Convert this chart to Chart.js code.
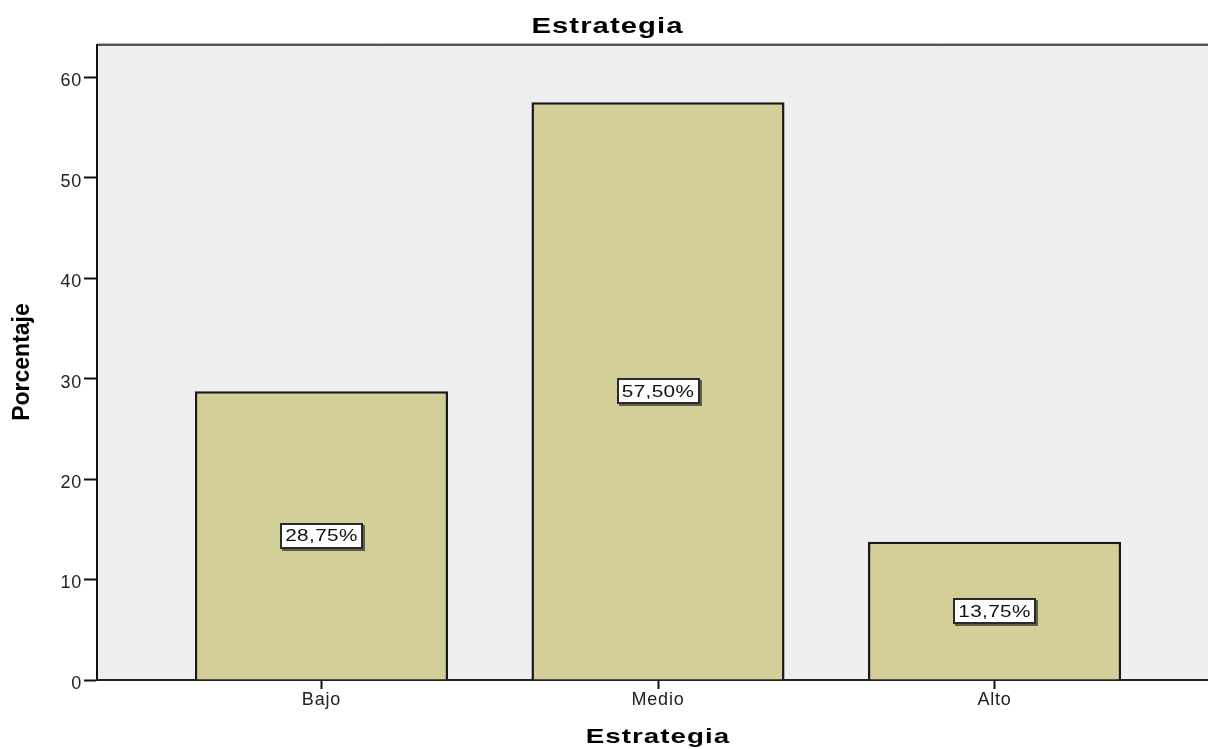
<!DOCTYPE html>
<html>
<head>
<meta charset="utf-8">
<title>Estrategia</title>
<script src="https://cdn.jsdelivr.net/npm/chart.js@4.4.1/dist/chart.umd.min.js"></script>
<style>
  html, body { margin: 0; padding: 0; background: #ffffff; overflow: hidden; }
  canvas { display: block; }
</style>
</head>
<body>
<canvas id="chart" width="1219" height="749"></canvas>
<script>
// Category names and their percentages
const categories = ['Bajo', 'Medio', 'Alto'];
const percentages = [28.75, 57.50, 13.75];
const yTickValues = [0, 10, 20, 30, 40, 50, 60];
const chartTitle = 'Estrategia';
const xAxisTitle = 'Estrategia';
const yAxisTitle = 'Porcentaje';

const fmtPercent = v => v.toFixed(2).replace('.', ',') + '%';

// Draws text with a horizontal stretch and letter spacing
function drawWideText(ctx, text, x, y, font, sx, spacing) {
  ctx.save();
  ctx.font = font;
  ctx.letterSpacing = spacing + 'px';
  ctx.textAlign = 'center';
  ctx.textBaseline = 'alphabetic';
  ctx.fillStyle = '#000';
  ctx.translate(x, y);
  ctx.scale(sx, 1);
  ctx.fillText(text, 0, 0);
  ctx.restore();
}

const decor = {
  id: 'decor',
  beforeDraw(chart) {
    const { ctx, chartArea: a } = chart;
    ctx.save();
    ctx.fillStyle = '#efefef';
    ctx.fillRect(a.left, a.top, a.right - a.left, a.bottom - a.top);
    ctx.strokeStyle = '#b4b4b4';
    ctx.lineWidth = 1;
    ctx.beginPath();
    ctx.moveTo(a.left, a.top - 1.5);
    ctx.lineTo(a.right, a.top - 1.5);
    ctx.stroke();
    ctx.strokeStyle = '#555';
    ctx.lineWidth = 2;
    ctx.beginPath();
    ctx.moveTo(a.left, a.top);
    ctx.lineTo(a.right, a.top);
    ctx.stroke();
    ctx.restore();
    // slightly wider tick lettering for the axis labels
    ctx.letterSpacing = '0.8px';
  },
  afterDatasetsDraw(chart) {
    const { ctx } = chart;
    const meta = chart.getDatasetMeta(0);
    const yScale = chart.scales.y;
    const sx = 1.22;
    meta.data.forEach((el, i) => {
      const v = percentages[i];
      const text = fmtPercent(v);
      const x = el.x;
      const y = yScale.getPixelForValue(v / 2);
      ctx.save();
      ctx.font = '17px "Liberation Sans", Arial, sans-serif';
      ctx.letterSpacing = '0.3px';
      const w = ctx.measureText(text).width * sx;
      const bw = Math.round(w + 10);
      const bh = 26;
      const bx = Math.round(x - bw / 2);
      const by = Math.round(y - bh / 2);
      ctx.fillStyle = '#5f5c48';
      ctx.fillRect(bx + 2, by + 2, bw, bh);
      ctx.fillStyle = '#ffffff';
      ctx.fillRect(bx, by, bw, bh);
      ctx.strokeStyle = '#2a2a2a';
      ctx.lineWidth = 2;
      ctx.strokeRect(bx + 1, by + 1, bw - 2, bh - 2);
      ctx.fillStyle = '#111';
      ctx.textAlign = 'center';
      ctx.textBaseline = 'middle';
      ctx.translate(x, y + 1);
      ctx.scale(sx, 1);
      ctx.fillText(text, 0, 0);
      ctx.restore();
    });
  },
  afterDraw(chart) {
    const { ctx, chartArea: a } = chart;
    ctx.letterSpacing = '0px';
    drawWideText(ctx, chartTitle, chart.width / 2 - 2, 33,
      'bold 22px "Liberation Sans", Arial, sans-serif', 1.33, 0.8);
    drawWideText(ctx, xAxisTitle, (a.left + a.right) / 2, 743,
      'bold 21px "Liberation Sans", Arial, sans-serif', 1.32, 0.8);
    ctx.save();
    ctx.font = 'bold 23px "Liberation Sans", Arial, sans-serif';
    ctx.fillStyle = '#000';
    ctx.textAlign = 'center';
    ctx.textBaseline = 'alphabetic';
    ctx.translate(29, 362);
    ctx.rotate(-Math.PI / 2);
    ctx.fillText(yAxisTitle, 0, 0);
    ctx.restore();
  }
};

const tickFont = { family: '"Liberation Sans", Arial, sans-serif', size: 18 };

new Chart(document.getElementById('chart'), {
  type: 'bar',
  data: {
    datasets: [{
      label: 'Porcentaje',
      data: categories.map((c, i) => ({ x: i, y: percentages[i] })),
      backgroundColor: '#d4cf98',
      borderColor: '#1a1a1a',
      borderWidth: 2.5,
      borderSkipped: 'bottom',
      barPercentage: 0.752,
      categoryPercentage: 1.0
    }]
  },
  plugins: [decor],
  options: {
    responsive: false,
    animation: false,
    layout: { padding: { top: 45, right: 0, bottom: 0, left: 0 } },
    plugins: {
      legend: { display: false },
      tooltip: { enabled: false },
      title: { display: false }
    },
    scales: {
      x: {
        type: 'linear',
        min: -0.667,
        max: 2.667,
        offset: false,
        afterBuildTicks: s => { s.ticks = categories.map((c, i) => ({ value: i })); },
        afterFit: s => { s.height = 69; },
        ticks: {
          autoSkip: false,
          maxRotation: 0,
          padding: 0,
          color: '#222',
          font: tickFont,
          callback: v => categories[v]
        },
        grid: {
          display: true,
          offset: false,
          drawOnChartArea: false,
          drawTicks: true,
          tickLength: 9,
          tickColor: '#111',
          tickWidth: 2
        },
        border: { display: true, color: '#222', width: 2 }
      },
      y: {
        min: 0,
        max: 63.2,
        afterBuildTicks: s => { s.ticks = yTickValues.map(v => ({ value: v })); },
        afterFit: s => { s.width = 97; },
        ticks: {
          color: '#222',
          font: tickFont,
          padding: 2,
          labelOffset: 4
        },
        grid: {
          display: true,
          offset: false,
          drawOnChartArea: false,
          drawTicks: true,
          tickLength: 13,
          tickColor: '#111',
          tickWidth: 2
        },
        border: { display: true, color: '#111', width: 2 }
      }
    }
  }
});
</script>
</body>
</html>
